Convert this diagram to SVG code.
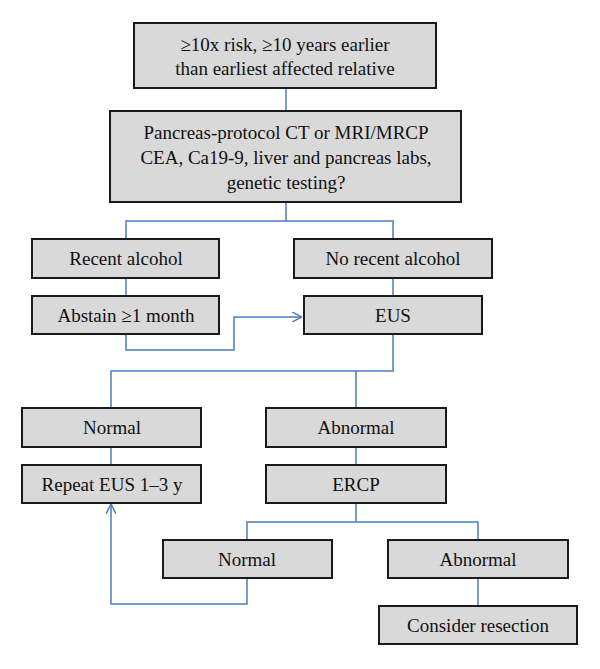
<svg xmlns="http://www.w3.org/2000/svg" width="600" height="669" viewBox="0 0 600 669">
<style>
.box{fill:#d9d9d9;stroke:#1a1a1a;stroke-width:2}
.t{font-family:"Liberation Serif",serif;font-size:19px;fill:#111;text-anchor:middle}
.c{fill:none;stroke:#4a7ebb;stroke-width:1.5}
</style>
<defs>
<marker id="ah" viewBox="0 0 10 10" refX="10" refY="5" markerWidth="10" markerHeight="10" markerUnits="userSpaceOnUse" orient="auto">
<path d="M0,0 L10,5 L0,10" fill="none" stroke="#4a7ebb" stroke-width="1.5"/>
</marker>
</defs>
<rect width="600" height="669" fill="#fff"/>
<g id="connectors">
<path class="c" d="M286,88 V111"/>
<path class="c" d="M286,202 V221 M126,239 V221 H393 V239"/>
<path class="c" d="M126,278 V296"/>
<path class="c" d="M393,278 V296"/>
<path class="c" d="M126,334 V350 H234 V317 H302" marker-end="url(#ah)"/>
<path class="c" d="M393,334 V371 H111 V408 M356,371 V408"/>
<path class="c" d="M111,447 V465"/>
<path class="c" d="M356,447 V465"/>
<path class="c" d="M356,503 V522 H247 V540 M356,522 H478 V540"/>
<path class="c" d="M478,578 V606"/>
<path class="c" d="M247,578 V604 H111 V504" marker-end="url(#ah)"/>
</g>
<g id="n1"><rect class="box" x="134" y="23" width="302" height="65"/>
<text class="t" x="285" y="51">≥10x risk, ≥10 years earlier</text>
<text class="t" x="285" y="75">than earliest affected relative</text></g>
<g id="n2"><rect class="box" x="110" y="111" width="351" height="91"/>
<text class="t" x="286" y="139">Pancreas-protocol CT or MRI/MRCP</text>
<text class="t" x="286" y="164">CEA, Ca19-9, liver and pancreas labs,</text>
<text class="t" x="286" y="189">genetic testing?</text></g>
<g id="n3"><rect class="box" x="32" y="239" width="187" height="39"/>
<text class="t" x="126" y="265">Recent alcohol</text></g>
<g id="n4"><rect class="box" x="294" y="239" width="198" height="39"/>
<text class="t" x="393" y="265">No recent alcohol</text></g>
<g id="n5"><rect class="box" x="32" y="296" width="187" height="38"/>
<text class="t" x="126" y="322">Abstain ≥1 month</text></g>
<g id="n6"><rect class="box" x="304" y="296" width="178" height="38"/>
<text class="t" x="393" y="322">EUS</text></g>
<g id="n7"><rect class="box" x="22" y="408" width="179" height="39"/>
<text class="t" x="112" y="434">Normal</text></g>
<g id="n8"><rect class="box" x="266" y="408" width="180" height="39"/>
<text class="t" x="356" y="434">Abnormal</text></g>
<g id="n9"><rect class="box" x="22" y="465" width="179" height="38"/>
<text class="t" x="112" y="491">Repeat EUS 1–3 y</text></g>
<g id="n10"><rect class="box" x="266" y="465" width="180" height="38"/>
<text class="t" x="356" y="491">ERCP</text></g>
<g id="n11"><rect class="box" x="163" y="540" width="169" height="38"/>
<text class="t" x="247" y="566">Normal</text></g>
<g id="n12"><rect class="box" x="388" y="540" width="180" height="38"/>
<text class="t" x="478" y="566">Abnormal</text></g>
<g id="n13"><rect class="box" x="379" y="606" width="198" height="38"/>
<text class="t" x="478" y="632">Consider resection</text></g>
</svg>
